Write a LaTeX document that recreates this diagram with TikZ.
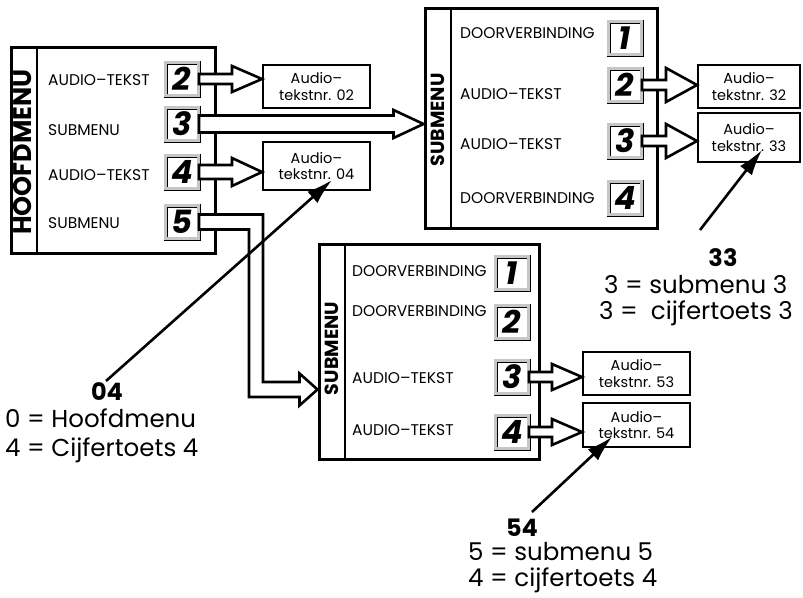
\documentclass[tikz,border=0pt]{standalone}
\usepackage{fontspec}
\setmainfont{Poppins}
\usetikzlibrary{arrows.meta, positioning, calc}
\tikzset{
  menuframe/.style={draw, line width=3pt, fill=white, inner sep=0pt},
  stripline/.style={line width=2pt},
  striplbl/.style={rotate=90, inner sep=0pt, font=\bfseries\fontsize{19}{19}\selectfont},
  keybox/.style={draw, line width=0.9pt, double=gray!45, double distance=2.2pt,
    fill=white, minimum size=33pt, inner sep=0pt,
    font=\bfseries\itshape\fontsize{32}{32}\selectfont},
  itemlbl/.style={anchor=west, inner sep=0pt, font=\fontsize{15.5}{15.5}\selectfont},
  audiobox/.style={draw, line width=2pt, fill=white, inner sep=0pt, align=center,
    font=\fontsize{14.5}{16.5}\selectfont},
  fatarr/.style={draw, line width=2.6pt, fill=white, line join=miter},
  pointer/.style={line width=2.6pt, -{Latex[length=26pt, width=15pt]}},
  codelbl/.style={inner sep=0pt, font=\bfseries\fontsize{24}{24}\selectfont},
  legendlbl/.style={anchor=west, inner sep=0pt, font=\fontsize{24.5}{24.5}\selectfont}
}
% hollow block arrow from #1 to #2: shaft half, head half, head length
\newcommand\fatarrow[5]{%
  \path[fatarr] let \p1=(#1), \p2=(#2) in
    (\x1,\y1+#3) -- (\x2-#5,\y1+#3) -- (\x2-#5,\y1+#4) -- (\x2,\y1)
    -- (\x2-#5,\y1-#4) -- (\x2-#5,\y1-#3) -- (\x1,\y1-#3) -- cycle;}

\begin{document}
\begin{tikzpicture}[x=1pt, y=1pt]
  \fill[white] (0,0) rectangle (803,-597);
  \useasboundingbox (0,0) rectangle (803,-597);

  % ---- Menu frames ---------------------------------------------------------
  \node[menuframe, minimum width=204pt, minimum height=206pt] (hm)  at (113,-150)   {};
  \node[menuframe, minimum width=232pt, minimum height=220pt] (sm1) at (541,-118)   {};
  \node[menuframe, minimum width=220pt, minimum height=215pt] (sm2) at (429,-351.5) {};
  \foreach \f in {hm, sm1, sm2} {
    \draw[stripline] ([xshift=27pt]\f.north west) -- ([xshift=27pt]\f.south west);
  }
  \node[striplbl, font=\bfseries\fontsize{25.5}{25.5}\selectfont]
        at ($(hm.west)+(13.5,-2)$) {HOOFDMENU};
  \node[striplbl] at ($(sm1.west)+(14,-2)$) {SUBMENU};
  \node[striplbl] at ($(sm2.west)+(14,3)$)  {SUBMENU};

  % ---- Keys ----------------------------------------------------------------
  \foreach \n/\y in {2/79, 3/124, 4/172, 5/222} { \node[keybox] (h\n) at (182,-\y) {\n}; }
  \foreach \n/\y in {1/38, 2/85, 3/141, 4/198}  { \node[keybox] (s\n) at (625,-\y) {\n}; }
  \foreach \n/\y in {1/273, 2/322, 3/377, 4/432} { \node[keybox] (u\n) at (512,-\y) {\n}; }

  % ---- Menu items ----------------------------------------------------------
  \node[itemlbl] at (48,-80)  {AUDIO--TEKST};
  \node[itemlbl] at (48,-130) {SUBMENU};
  \node[itemlbl] at (48,-175) {AUDIO--TEKST};
  \node[itemlbl] at (48,-223) {SUBMENU};
  \node[itemlbl] at (460,-33)  {DOORVERBINDING};
  \node[itemlbl] at (460,-94)  {AUDIO--TEKST};
  \node[itemlbl] at (460,-144) {AUDIO--TEKST};
  \node[itemlbl] at (460,-198) {DOORVERBINDING};
  \node[itemlbl] at (352,-271) {DOORVERBINDING};
  \node[itemlbl] at (352,-311) {DOORVERBINDING};
  \node[itemlbl] at (352,-378) {AUDIO--TEKST};
  \node[itemlbl] at (352,-430) {AUDIO--TEKST};

  % ---- Audio text boxes ----------------------------------------------------
  \node[audiobox, minimum width=107pt, minimum height=43pt] (a02) at (316.5,-86.5) {Audio--\\tekstnr. 02};
  \node[audiobox, minimum width=107pt, minimum height=48pt] (a04) at (316.5,-166)  {Audio--\\tekstnr. 04};
  \node[audiobox, minimum width=102pt, minimum height=43pt] (a32) at (749,-86.5)   {Audio--\\tekstnr. 32};
  \node[audiobox, minimum width=102pt, minimum height=49pt] (a33) at (749,-137.5)  {Audio--\\tekstnr. 33};
  \node[audiobox, minimum width=107pt, minimum height=43pt] (a53) at (636.5,-373.5) {Audio--\\tekstnr. 53};
  \node[audiobox, minimum width=107pt, minimum height=44pt] (a54) at (636.5,-425)  {Audio--\\tekstnr. 54};

  % ---- Block arrows --------------------------------------------------------
  \fatarrow{h2.east}{a02.west}{5pt}{13pt}{30pt}
  \fatarrow{h3.east}{sm1.west}{8.5pt}{14pt}{30pt}
  \fatarrow{h4.east}{a04.west}{7pt}{14pt}{30pt}
  \fatarrow{s2.east}{a32.west}{5pt}{17pt}{31pt}
  \fatarrow{s3.east}{a33.west}{5pt}{17pt}{31pt}
  \fatarrow{u3.east}{a53.west}{5pt}{13pt}{30pt}
  \fatarrow{u4.east}{a54.west}{5pt}{13pt}{30pt}

  % ---- Bent pipe from key 5 to the lower submenu ---------------------------
  \coordinate (bend5) at (256,-389.5);
  \path[fatarr] let \p1=(h5.east), \p2=(sm2.west |- bend5), \p3=(bend5) in
    (\x1,\y1+7.5pt) -- (\x3+7pt,\y1+7.5pt) -- (\x3+7pt,\y2+7.5pt)
    -- (\x2-18pt,\y2+7.5pt) -- (\x2-18pt,\y2+16pt) -- (\x2,\y2)
    -- (\x2-18pt,\y2-16pt) -- (\x2-18pt,\y2-7.5pt) -- (\x3-7pt,\y2-7.5pt)
    -- (\x3-7pt,\y1-7.5pt) -- (\x1,\y1-7.5pt) -- cycle;

  % ---- Codes and legends ---------------------------------------------------
  \node[codelbl] (n04) at (107,-392) {04};
  \node[legendlbl] at (5,-418) {0 = Hoofdmenu};
  \node[legendlbl] at (5,-450) {4 = Cijfertoets 4};

  \node[codelbl] (n33) at (723,-258) {33};
  \node[legendlbl] at (604,-285) {3 = submenu 3};
  \node[legendlbl] at (599,-313) {3 =\ \ cijfertoets 3};

  \node[codelbl] (n54) at (522,-528) {54};
  \node[legendlbl] at (468,-552) {5 = submenu 5};
  \node[legendlbl] at (468,-580) {4 = cijfertoets 4};

  % ---- Pointers ------------------------------------------------------------
  \coordinate (s04) at (106,-381);  \coordinate (t04) at (332,-180);
  \coordinate (s33) at (700,-230);  \coordinate (t33) at (762,-150);
  \coordinate (s54) at (532,-512);  \coordinate (t54) at (612,-437);
  \draw[pointer] (s04) -- (t04);
  \draw[pointer] (s33) -- (t33);
  \draw[pointer] (s54) -- (t54);

\end{tikzpicture}
\end{document}
